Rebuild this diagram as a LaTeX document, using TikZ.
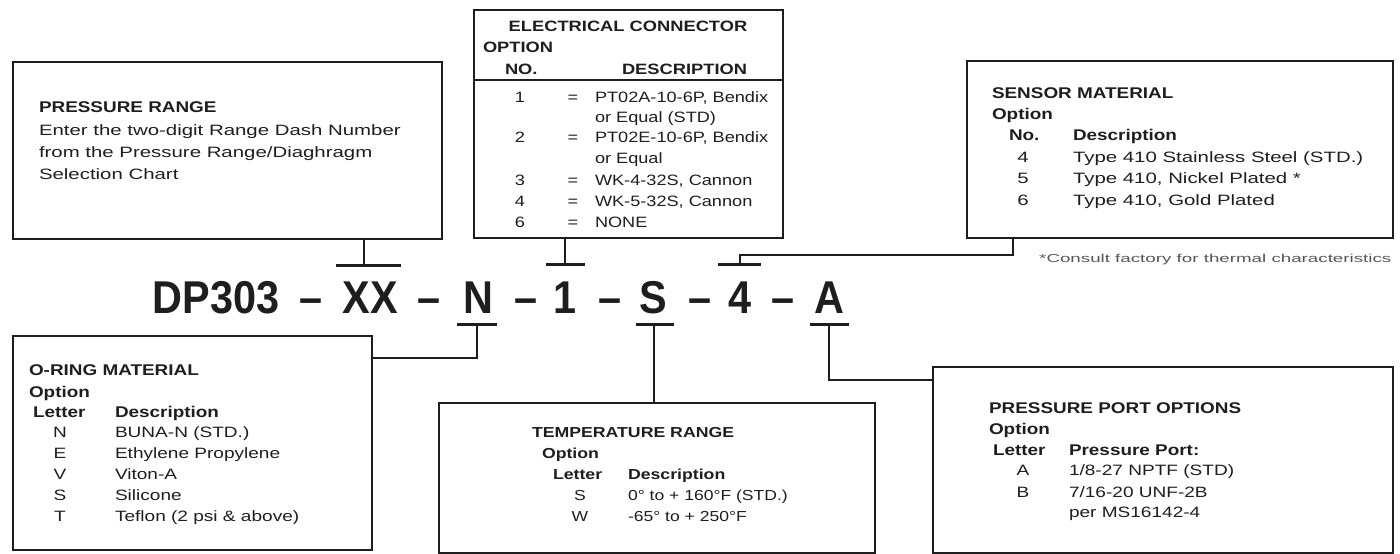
\documentclass[tikz,border=0pt]{standalone}
\usepackage{fontspec}
\setmainfont{Liberation Sans}
\newfontfamily\rA{Liberation Sans}[FakeStretch=1.36]
\newfontfamily\rB{Liberation Sans}[FakeStretch=1.21]
\newfontfamily\rC{Liberation Sans}[FakeStretch=1.27]
\newfontfamily\rF{Liberation Sans}[FakeStretch=1.63]
\newfontfamily\bA{Liberation Sans}[FakeStretch=1.22]
\newfontfamily\ttl{Liberation Sans}[FakeStretch=0.9]
\usetikzlibrary{fit}
\definecolor{ink}{HTML}{1E1E1E}
\definecolor{gr}{HTML}{555555}
\tikzset{
  box/.style={draw=ink, line width=1.5pt, inner sep=0pt},
  conn/.style={draw=ink, line width=1.3pt},
  bar/.style={draw=ink, line width=3pt},
  rule/.style={draw=ink, line width=1.2pt},
  t/.style={anchor=base west, inner sep=0pt, outer sep=0pt, text=ink},
  tc/.style={anchor=base, inner sep=0pt, outer sep=0pt, text=ink},
  hd/.style={font=\fontsize{15.5}{18}\bA\bfseries},
  hdE/.style={font=\fontsize{15}{18}\bA\bfseries},
  hdT/.style={font=\fontsize{14.5}{17}\bA\bfseries},
  rgA/.style={font=\fontsize{15}{18}\rA},
  rgB/.style={font=\fontsize{15}{18}\rB},
  rgC/.style={font=\fontsize{15}{18}\rC},
  rgT/.style={font=\fontsize{14.5}{17}\rB},
  big/.style={anchor=base, inner sep=0pt, outer sep=0pt, text=ink, font=\fontsize{46}{52}\ttl\bfseries},
  note/.style={anchor=base west, inner sep=0pt, text=gr, font=\fontsize{11.5}{13}\rF}
}
\begin{document}
\begin{tikzpicture}[x=1pt,y=-1pt]
\useasboundingbox (0,0) rectangle (1400,554);
% ---------- boxes
\node[box,fit={(13,62)(442,239)}] (pr) {};
\node[box,fit={(474,10)(783,238)}] (ec) {};
\node[box,fit={(967,61)(1393,238)}] (sm) {};
\node[box,fit={(13,336)(372,550)}] (om) {};
\node[box,fit={(439,403)(875,553)}] (tr) {};
\node[box,fit={(933,367)(1393,553)}] (pp) {};
\coordinate (sep) at (0,80);
\draw[rule] (ec.west |- sep) -- (ec.east |- sep);

% ---------- model code
\node[big] (k0) at (216,313) {DP303};
\node[big] (d1) at (311,313) {–};
\node[big] (kXX) at (370,313) {XX};
\node[big] (d2) at (429,313) {–};
\node[big] (kN) at (478,313) {N};
\node[big] (d3) at (526,313) {–};
\node[big] (k1) at (565,313) {1};
\node[big] (d4) at (610,313) {–};
\node[big] (kS) at (653,313) {S};
\node[big] (d5) at (700,313) {–};
\node[big] (k4) at (740,313) {4};
\node[big] (d6) at (783,313) {–};
\node[big] (kA) at (829,313) {A};

% ---------- bars
\coordinate (cXX) at (364,265);
\coordinate (c1) at (565,264);
\coordinate (c4) at (740,264);
\coordinate (cN) at (477,324);
\coordinate (cS) at (654,324);
\coordinate (cA) at (829,324);
\draw[bar] (336,265) -- (401,265);
\draw[bar] (546,264) -- (585,264);
\draw[bar] (718,264) -- (761,264);
\draw[bar] (457,324) -- (497,324);
\draw[bar] (636,324) -- (674,324);
\draw[bar] (810,324) -- (849,324);

% ---------- connectors
\coordinate (j4) at (1013,255);
\coordinate (jN) at (0,358);
\coordinate (jA) at (0,380);
\draw[conn] (pr.south -| cXX) -- (cXX);
\draw[conn] (ec.south -| c1) -- (c1);
\draw[conn] (c4) |- (j4) -- (sm.south -| j4);
\draw[conn] (cN) |- (om.east |- jN);
\draw[conn] (cS) -- (tr.north -| cS);
\draw[conn] (cA) |- (pp.west |- jA);

% ---------- pressure range
\node[t,hd] (pr1) at (39,112) {PRESSURE RANGE};
\node[t,rgA] (pr2) at (39,135) {Enter the two-digit Range Dash Number};
\node[t,rgA] (pr3) at (39,157) {from the Pressure Range/Diaghragm};
\node[t,rgA] (pr4) at (39,179) {Selection Chart};

% ---------- electrical connector
\node[tc,hdE] (ec1) at (628,31) {ELECTRICAL CONNECTOR};
\node[t,hdE] (ec2) at (483,52) {OPTION};
\node[t,hdE] (ec3) at (505,74) {NO.};
\node[t,hdE] (ec4) at (622,74) {DESCRIPTION};
\node[tc,rgB] (en1) at (520,102) {1};
\node[tc,rgB] (ee1) at (573,102) {=};
\node[t,rgB] (ed1) at (595,102) {PT02A-10-6P, Bendix};
\node[t,rgB] (ed1b) at (595,122) {or Equal (STD)};
\node[tc,rgB] (en2) at (520,142) {2};
\node[tc,rgB] (ee2) at (573,142) {=};
\node[t,rgB] (ed2) at (595,142) {PT02E-10-6P, Bendix};
\node[t,rgB] (ed2b) at (595,163) {or Equal};
\node[tc,rgB] (en3) at (520,185) {3};
\node[tc,rgB] (ee3) at (573,185) {=};
\node[t,rgB] (ed3) at (595,185) {WK-4-32S, Cannon};
\node[tc,rgB] (en4) at (520,206) {4};
\node[tc,rgB] (ee4) at (573,206) {=};
\node[t,rgB] (ed4) at (595,206) {WK-5-32S, Cannon};
\node[tc,rgB] (en6) at (520,227) {6};
\node[tc,rgB] (ee6) at (573,227) {=};
\node[t,rgB] (ed6) at (595,227) {NONE};

% ---------- sensor material
\node[t,hd] (sm1) at (992,98) {SENSOR MATERIAL};
\node[t,hd] (sm2) at (992,119) {Option};
\node[t,hd] (sm3) at (1009,140) {No.};
\node[t,hd] (sm4) at (1073,140) {Description};
\node[tc,rgA] (sn4) at (1023,162) {4};
\node[t,rgA] (sd4) at (1073,162) {Type 410 Stainless Steel (STD.)};
\node[tc,rgA] (sn5) at (1023,183) {5};
\node[t,rgA] (sd5) at (1073,183) {Type 410, Nickel Plated *};
\node[tc,rgA] (sn6) at (1023,205) {6};
\node[t,rgA] (sd6) at (1073,205) {Type 410, Gold Plated};
\node[note] (fn) at (1039,262) {*Consult factory for thermal characteristics};

% ---------- o-ring material
\node[t,hd] (om1) at (29,375) {O-RING MATERIAL};
\node[t,hd] (om2) at (29,397) {Option};
\node[t,hd] (om3) at (33,417) {Letter};
\node[t,hd] (om4) at (115,417) {Description};
\node[tc,rgC] (ol1) at (60,437) {N};
\node[t,rgC] (od1) at (115,437) {BUNA-N (STD.)};
\node[tc,rgC] (ol2) at (60,458) {E};
\node[t,rgC] (od2) at (115,458) {Ethylene Propylene};
\node[tc,rgC] (ol3) at (60,479) {V};
\node[t,rgC] (od3) at (115,479) {Viton-A};
\node[tc,rgC] (ol4) at (60,500) {S};
\node[t,rgC] (od4) at (115,500) {Silicone};
\node[tc,rgC] (ol5) at (60,521) {T};
\node[t,rgC] (od5) at (115,521) {Teflon (2 psi \& above)};

% ---------- temperature range
\node[t,hdT] (tr1) at (532,437) {TEMPERATURE RANGE};
\node[t,hdT] (tr2) at (542,458) {Option};
\node[t,hdT] (tr3) at (553,479) {Letter};
\node[t,hdT] (tr4) at (628,479) {Description};
\node[tc,rgT] (tl1) at (580,500) {S};
\node[t,rgT] (td1) at (628,500) {0° to + 160°F (STD.)};
\node[tc,rgT] (tl2) at (580,521) {W};
\node[t,rgT] (td2) at (628,521) {-65° to + 250°F};

% ---------- pressure port options
\node[t,hd] (pp1) at (989,413) {PRESSURE PORT OPTIONS};
\node[t,hd] (pp2) at (989,434) {Option};
\node[t,hd] (pp3) at (993,455) {Letter};
\node[t,hd] (pp4) at (1069,455) {Pressure Port:};
\node[tc,rgC] (pl1) at (1023,475) {A};
\node[t,rgC] (pd1) at (1069,475) {1/8-27 NPTF (STD)};
\node[tc,rgC] (pl2) at (1023,497) {B};
\node[t,rgC] (pd2) at (1069,497) {7/16-20 UNF-2B};
\node[t,rgC] (pd2b) at (1069,517) {per MS16142-4};
\end{tikzpicture}
\end{document}
